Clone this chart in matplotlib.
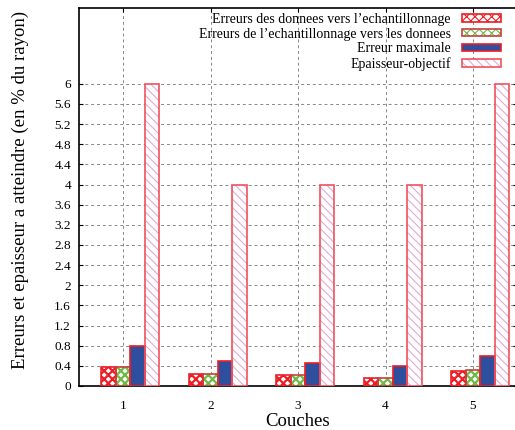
import numpy as np
import matplotlib
matplotlib.use('Agg')
import matplotlib.pyplot as plt
from matplotlib.patches import Patch

plt.rcParams['font.family'] = ['Liberation Serif', 'DejaVu Serif']
plt.rcParams['hatch.linewidth'] = 1.6

# data
couches = [1, 2, 3, 4, 5]
err_donnees_ech = [0.37, 0.24, 0.21, 0.16, 0.30]
err_ech_donnees = [0.37, 0.23, 0.22, 0.15, 0.32]
err_max = [0.80, 0.50, 0.46, 0.40, 0.60]
epaisseur = [6, 4, 4, 4, 6]

noms = ['Erreurs des donnees vers l\u2019echantillonnage',
        'Erreurs de l\u2019echantillonnage vers les donnees',
        'Erreur maximale',
        'Epaisseur-objectif']

# (face, hatch color, hatch, outline)
styles = [('white', '#ee1c24', 'xxxx', '#ee1c24'),
          ('white', '#6cbb44', 'xxxx', '#c84040'),
          ('#2d4f9e', '#2d4f9e', '', '#ee1c24'),
          ('white', '#e4a8d8', '\\\\\\\\', '#f0505a')]

fig = plt.figure(figsize=(5.15, 4.30), dpi=100)
ax = fig.add_axes([79.25 / 515, 1 - 386 / 430, 437.5 / 515, (386 - 8.3) / 430])

x = np.array(couches)
w = 1 / 6
series = [err_donnees_ech, err_ech_donnees, err_max, epaisseur]
handles = []
for i, (vals, st) in enumerate(zip(series, styles)):
    face, hcol, hatch, edge = st
    pos = x + (i - 1) * w
    if i == 3:
        plt.rcParams['hatch.linewidth'] = 0.8
    ax.bar(pos, vals, w, color=face, edgecolor=hcol, hatch=hatch, linewidth=0, zorder=3)
    ax.bar(pos, vals, w, fill=False, edgecolor=edge, linewidth=1.2, zorder=4)
    h1 = Patch(facecolor=face, edgecolor=hcol, hatch=hatch, linewidth=0)
    h2 = Patch(fill=False, edgecolor=edge, linewidth=1.2)
    handles.append((h1, h2))

ax.set_xlim(0.5, 5.5)
ax.set_ylim(0, 7.5)
yt = np.round(np.arange(0, 6.01, 0.4), 1)
ax.set_xticks(couches)
ax.set_yticks(yt)
ax.set_yticklabels(['%g' % v for v in yt])

ax.grid(True, color='#888888', linestyle=(0, (3, 3)), linewidth=0.7, zorder=1)
ax.tick_params(direction='in', length=3, width=0.8, top=True, right=True, labelsize=9.5)
ax.tick_params(axis='x', pad=10)
ax.tick_params(axis='y', pad=6)
for s in ax.spines.values():
    s.set_linewidth(1.2)

ax.set_xlabel('Couches', fontsize=13.5)
ax.xaxis.set_label_coords(0.5, -27 / 378)
ax.set_ylabel('Erreurs et epaisseur a atteindre (en % du rayon)', fontsize=13.5)
ax.yaxis.set_label_coords(-50 / 437.5, 0.52)

ax.legend(handles, noms, loc='upper right', bbox_to_anchor=(501 / 515, 1 - 13 / 430),
          bbox_transform=fig.transFigure, frameon=False, markerfirst=False,
          fontsize=10, borderpad=0, borderaxespad=0, handlelength=2.8,
          handleheight=0.45, handletextpad=0.8, labelspacing=0.12)

fig.savefig('out.png', dpi=100)
